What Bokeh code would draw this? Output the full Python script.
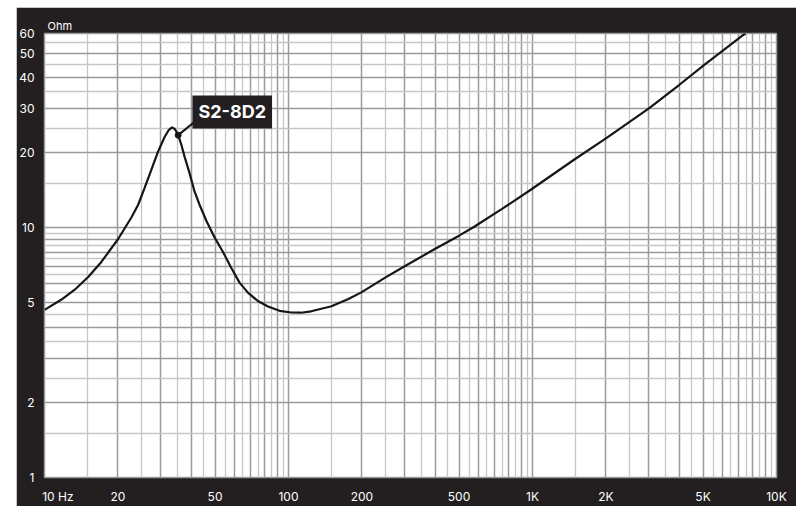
from bokeh.embed import file_html
from bokeh.resources import INLINE
from bokeh.plotting import figure
from bokeh.models import FixedTicker, Label, Range1d, Title

# impedance curve (Hz, Ohm)
freq_hz = [10, 11.7, 13.3, 15.1, 17.1, 20, 22.7, 24.2, 25.7, 27.4, 29.2,
           31.1, 32.3, 33.3, 34.2, 35.3, 36.4, 37.5, 39.3, 41.2, 43.2, 46.0,
           49.8, 53.9, 58.3, 63, 68.2, 74.9, 82.4, 91.9, 102.6, 112.7, 123.8,
           150, 175, 198, 250, 298, 396, 500, 577, 750, 984, 1500, 2000, 3000,
           4000, 5044, 7244, 7470]
impedance_ohm = [4.69, 5.15, 5.65, 6.35, 7.3, 9.0, 11.0, 12.37, 14.42, 17.06,
                 20.18, 23.16, 24.63, 25.25, 24.86, 23.52, 21.47, 19.28, 16.56,
                 13.98, 12.37, 10.7, 9.15, 8.0, 6.9, 6.03, 5.5, 5.09, 4.84,
                 4.65, 4.58, 4.57, 4.63, 4.85, 5.17, 5.5, 6.33, 7.0, 8.2, 9.3,
                 10.1, 11.9, 14.2, 18.9, 22.8, 30.1, 37.4, 44.8, 58.9, 60.0]

x_tick_values = [10, 20, 50, 100, 200, 500, 1000, 2000, 5000, 10000]
x_tick_labels = ["10 Hz", "20", "50", "100", "200", "500", "1K", "2K", "5K", "10K"]
y_tick_values = [1, 2, 5, 10, 20, 30, 40, 50, 60]

# darker lines on the whole steps, lighter ones half way between
x_grid_major = [m * d for d in (10, 100, 1000) for m in range(1, 10)] + [10000]
x_grid_minor = [(m + 0.5) * d for d in (10, 100, 1000) for m in range(1, 10)]
y_grid_major = list(range(1, 10)) + [10, 20, 30, 40, 50, 60]
y_grid_minor = [m + 0.5 for m in range(1, 10)] + [15, 25, 35, 45, 55]

model_name = "S2-8D2"
marker_at = (35.3, 23.5)
leader_end = (41.1, 26.5)
tag_at = (58.8, 29.1)

DARK = "#231f20"
FONT = "Inter"

p = figure(width=780, height=499, x_axis_type="log", y_axis_type="log",
           x_range=Range1d(10, 10000), y_range=Range1d(1, 60),
           output_backend="svg", toolbar_location=None,
           min_border_left=27, min_border_right=20,
           min_border_top=26, min_border_bottom=27)
p.margin = (7, 0, 0, 16)
p.border_fill_color = DARK
p.background_fill_color = "white"
p.outline_line_color = "#9a9a9a"
p.outline_line_width = 1.5

p.add_layout(Title(text="Ohm", align="left", offset=3, standoff=2,
                   text_color="white", text_font=FONT, text_font_size="11px",
                   text_font_style="normal"), "above")

p.xgrid.ticker = FixedTicker(ticks=x_grid_major, minor_ticks=x_grid_minor)
p.ygrid.ticker = FixedTicker(ticks=y_grid_major, minor_ticks=y_grid_minor)
for g in (p.xgrid, p.ygrid):
    g.grid_line_color = "#9a9a9a"
    g.grid_line_width = 1.5
    g.minor_grid_line_color = "#c6c6c6"
    g.minor_grid_line_width = 1.3

# the first label ("10 Hz") starts at the left edge instead of being centred on it
label_pos = [t * 1.135 if t == 10 else t for t in x_tick_values]
p.xaxis.ticker = FixedTicker(ticks=label_pos)
p.xaxis.major_label_overrides = dict(zip(label_pos, x_tick_labels))
p.yaxis.ticker = FixedTicker(ticks=y_tick_values)
p.yaxis.major_label_overrides = {v: str(v) for v in y_tick_values}
for ax in (p.xaxis, p.yaxis):
    ax.axis_line_color = None
    ax.major_tick_line_color = None
    ax.minor_tick_line_color = None
    ax.major_label_text_color = "white"
    ax.major_label_text_font = FONT
    ax.major_label_text_font_size = "12px"
p.xaxis.major_label_standoff = 5
p.yaxis.major_label_standoff = 4

p.line(freq_hz, impedance_ohm, line_color="#161616", line_width=2.2)

# model tag with leader line
p.segment(x0=[marker_at[0]], y0=[marker_at[1]], x1=[leader_end[0]], y1=[leader_end[1]],
          line_color="#161616", line_width=2)
p.scatter([marker_at[0]], [marker_at[1]], size=6, color="#161616")
p.add_layout(Label(x=tag_at[0], y=tag_at[1], text=model_name,
                   text_align="center", text_baseline="middle",
                   text_color="white", text_font=FONT, text_font_style="bold",
                   text_font_size="18px", background_fill_color=DARK,
                   padding=6))

open("out.html", "w").write(file_html(p, INLINE))
